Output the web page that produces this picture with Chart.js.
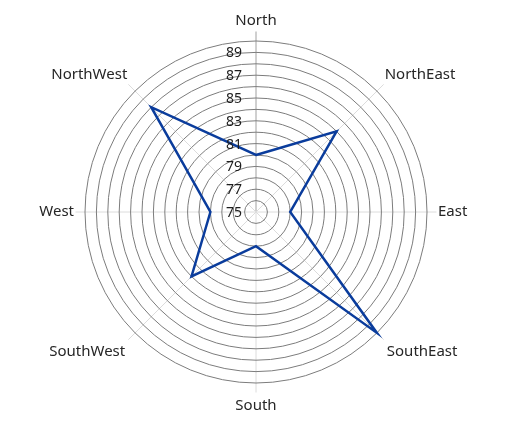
<!DOCTYPE html>
<html>
<head>
<meta charset="utf-8">
<script src="https://cdn.jsdelivr.net/npm/chart.js@4.4.1/dist/chart.umd.min.js"></script>
<style>
  html, body { margin: 0; padding: 0; background: #ffffff; }
  #chart { display: block; }
</style>
</head>
<body>
<canvas id="chart" width="520" height="426"></canvas>
<script>
// directions round the dial, clockwise from the top
const directions = ["North", "NorthEast", "East", "SouthEast", "South", "SouthWest", "West", "NorthWest"];

// series values
const values = [80, 85, 78, 90, 78, 83, 79, 88];

// labelled rings (every other ring)
const tickLabels = [75, 77, 79, 81, 83, 85, 87, 89];

const scaleMin = 75;
const scaleMax = 90;

const fontFamily = "'Segoe UI', 'Noto Sans', 'Open Sans', sans-serif";


// spokes are drawn by hand so they can run a bit past the outer ring
const spokes = {
  id: "spokes",
  beforeDraw(chart) {
    const s = chart.scales.r;
    const ctx = chart.ctx;
    ctx.save();
    ctx.lineWidth = 1;
    directions.forEach((d, i) => {
      const p = s.getPointPosition(i, s.drawingArea + 9.5);
      ctx.strokeStyle = i === 0 ? "#a0a0a0" : "#dcdcdc";
      ctx.beginPath();
      ctx.moveTo(s.xCenter, s.yCenter);
      ctx.lineTo(p.x, p.y);
      ctx.stroke();
    });
    ctx.restore();
  }
};

// ring values sit to the left of the north spoke
const ringLabels = {
  id: "ringLabels",
  afterDatasetsDraw(chart) {
    const s = chart.scales.r;
    const ctx = chart.ctx;
    ctx.save();
    ctx.font = "14px " + fontFamily;
    ctx.fillStyle = "#1e1e1e";
    ctx.textAlign = "right";
    ctx.textBaseline = "middle";
    tickLabels.forEach(v => {
      const d = s.getDistanceFromCenterForValue(v);
      ctx.fillText(String(v), s.xCenter - 14, s.yCenter - d + 1);
    });
    ctx.restore();
  }
};


new Chart(
document.getElementById("chart"),
{
type: "radar",

data: {
labels: directions,
datasets: [{
data: values,
borderColor: "#0a3c9c",
borderWidth: 2.5,
fill: false,
pointRadius: 0,
pointHoverRadius: 0,
tension: 0
}]
},

options: {
responsive: false,
devicePixelRatio: 1,
animation: false,
layout: {
padding: { top: 11, bottom: 9, left: 0, right: 8 }
},
plugins: {
legend: { display: false },
tooltip: { enabled: false }
},
elements: {
line: { borderJoinStyle: "miter" }
},
scales: {
r: {
min: scaleMin,
max: scaleMax,
beginAtZero: false,
ticks: {
display: false,
stepSize: 1
},
grid: {
circular: true,
color: "#7c7c7c",
lineWidth: 1
},
angleLines: { display: false },
pointLabels: {
color: "#262626",
font: { family: fontFamily, size: 15 },
padding: ctx => (ctx.index >= 3 && ctx.index <= 5) ? 14 : 11
}
}
}
},

plugins: [spokes, ringLabels]

});
</script>
</body>
</html>
